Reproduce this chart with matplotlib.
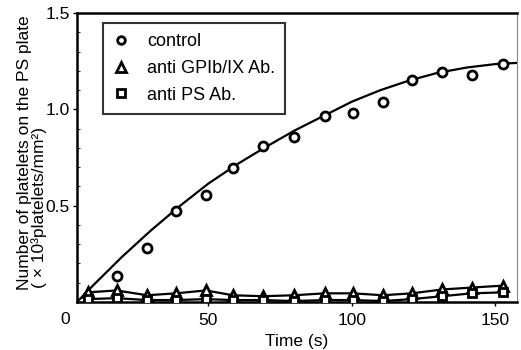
import matplotlib
matplotlib.use("Agg")
import matplotlib.pyplot as plt
from matplotlib.lines import Line2D

plt.rcParams["font.family"] = ["Liberation Sans", "DejaVu Sans"]

# time points (s)
time_s = [8, 18, 28.6, 38.7, 49.1, 58.5, 69, 79.8, 90.6, 100.3, 110.8, 120.9, 131.4, 141.8, 152.6]

# platelets on PS plate (x10^3 platelets/mm^2)
control = [0.03, 0.134, 0.278, 0.471, 0.554, 0.693, 0.812, 0.855, 0.964, 0.982, 1.04, 1.151, 1.193, 1.177, 1.236]
anti_gpib = [0.05, 0.06, 0.035, 0.045, 0.06, 0.035, 0.03, 0.035, 0.045, 0.045, 0.035, 0.045, 0.065, 0.075, 0.085]
anti_ps = [0.015, 0.02, 0.01, 0.01, 0.015, 0.01, 0.01, 0.005, 0.01, 0.01, 0.005, 0.015, 0.03, 0.045, 0.05]

# fitted curve for control
fit_t = [4.2, 10, 20, 30, 40, 50, 60, 70, 80, 90, 100, 110, 120, 130, 140, 150, 157.5]
fit_y = [0.0, 0.089, 0.236, 0.372, 0.498, 0.615, 0.715, 0.805, 0.89, 0.965, 1.04, 1.10, 1.15, 1.19, 1.217, 1.235, 1.241]

legend_labels = ["control", "anti GPIb/IX Ab.", "anti PS Ab."]

fig = plt.figure(figsize=(5.21, 3.5), dpi=100)
ax = fig.add_axes([77 / 521, 48 / 350, 440 / 521, 289 / 350])

ax.plot(fit_t, fit_y, color="black", lw=1.6, zorder=2)
ax.plot(time_s, control, "o", ls="none", ms=6.5, mfc="white", mec="black", mew=2, zorder=3)
ax.plot(time_s, anti_gpib, "^-", color="black", ms=7, mfc="white", mec="black", mew=2, lw=1.6, zorder=3)
ax.plot(time_s, anti_ps, "s-", color="black", ms=6, mfc="white", mec="black", mew=2, lw=1.6, zorder=3)

ax.set_xlim(4.2, 157.5)
ax.set_ylim(0, 1.5)
ax.set_xticks([50, 100, 150])
ax.set_yticks([0.5, 1.0, 1.5])
ax.set_yticklabels(["0.5", "1.0", "1.5"])
ax.tick_params(axis="both", labelsize=12.5, direction="out", length=3, width=1)
ax.tick_params(axis="y", pad=2)
ax.tick_params(axis="x", pad=5)
ax.set_yticks([0.1 * i for i in range(1, 15)], minor=True)
ax.tick_params(axis="y", which="minor", direction="in", length=2, width=0.6)

for side in ["left", "bottom", "top"]:
    ax.spines[side].set_linewidth(1.8)
ax.spines["right"].set_linewidth(0.8)
ax.spines["right"].set_color("#888888")

# shared origin label
ax.text(0, -0.062, "0", transform=ax.get_xaxis_transform(), ha="center", va="center", fontsize=12.5)

ax.set_xlabel("Time (s)", fontsize=12.5, labelpad=4)
fig.text(24.5 / 521, 60 / 350, "Number of platelets on the PS plate", rotation=90,
         ha="center", va="bottom", fontsize=12.5)
fig.text(39.5 / 521, 62 / 350, "( \u00d7 10\u00b3platelets/mm\u00b2)", rotation=90,
         ha="center", va="bottom", fontsize=12.5)

handles = [
    Line2D([], [], marker="o", ls="none", ms=5.5, mfc="white", mec="black", mew=2),
    Line2D([], [], marker="^", ls="none", ms=6.5, mfc="white", mec="black", mew=2),
    Line2D([], [], marker="s", ls="none", ms=5.5, mfc="white", mec="black", mew=2),
]
leg = ax.legend(handles, legend_labels, loc="upper left", bbox_to_anchor=(26 / 440, 1 - 10 / 289),
                fontsize=13, frameon=True, fancybox=False, edgecolor="black",
                handlelength=0.9, handletextpad=1.0, borderpad=0.55, labelspacing=0.55,
                borderaxespad=0)
leg.get_frame().set_linewidth(1.5)

fig.savefig("out.png", dpi=100)
